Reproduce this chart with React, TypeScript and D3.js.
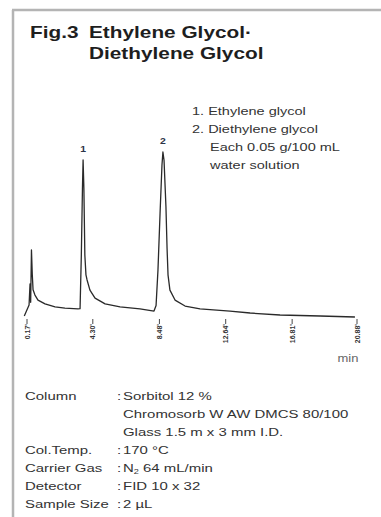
import React from "react";
import * as d3 from "d3";

// ---- data ----
const traceTime = [
  0.0, 0.3, 0.36, 0.4, 0.45, 0.5, 0.55, 0.67, 0.86, 1.3, 1.93, 2.55, 3.37,
  3.5, 3.58, 3.65, 3.69, 3.74, 3.8, 3.87, 3.94, 4.12, 4.44, 5.07, 6.01, 7.26, 8.14,
  8.27, 8.39, 8.52, 8.64, 8.7, 8.77, 8.89, 8.96, 9.02, 9.14, 9.46, 10.09, 11.03,
  12.91, 14.17, 16.05, 18.56, 20.75,
];
const traceSignal = [
  1.2, 7.8, 20.5, 9.5, 41, 26.5, 17, 13.8, 10.8, 8.5, 6.7, 6.0, 5.5,
  5.6, 38, 78, 95.2, 78, 38, 26, 22.9, 16.8, 12.0, 8.5, 6.7, 5.5, 4.2,
  7.5, 29, 63, 92, 100, 95, 67, 42, 26, 16.8, 10.8, 7.2, 5.5,
  4.2, 3.0, 1.8, 1.2, 0.6,
];
const tickTimes = [0.17, 4.3, 8.48, 12.64, 16.81, 20.88];
const tickLabels = ["0.17'", "4.30'", "8.48'", "12.64'", "16.81'", "20.88'"];
const peakNumbers = ["1", "2"];
const peakTimes = [3.69, 8.7];
const peakHeights = [95.2, 100];
const titleLines = ["Ethylene Glycol·", "Diethylene Glycol"];
const legendLines = [
  "1. Ethylene glycol",
  "2. Diethylene glycol",
  "Each 0.05 g/100 mL",
  "water solution",
];
const condLabels = ["Column", "", "", "Col.Temp.", "Carrier Gas", "Detector", "Sample Size"];
const condValues = [
  "Sorbitol 12 %",
  "Chromosorb W AW DMCS 80/100",
  "Glass 1.5 m x 3 mm I.D.",
  "170 °C",
  "N|2| 64 mL/min",
  "FID 10 x 32",
  "2 µL",
];

const W = 381;
const H = 517;
const FONT = "'Liberation Sans', Arial, Helvetica, sans-serif";

function SText({ x, y, sx = 1.3, size, weight = 400, fill = "#2b2b2b", anchor = "start", children }: any) {
  return (
    <g transform={`translate(${x},${y}) scale(${sx},1)`}>
      <text x={0} y={0} fontSize={size} fontWeight={weight} fill={fill} textAnchor={anchor} fontFamily={FONT}>
        {children}
      </text>
    </g>
  );
}

export default function App() {
  const x = d3.scaleLinear().domain([0.17, 20.88]).range([27, 357]);
  const y = d3.scaleLinear().domain([0, 100]).range([318, 152]);
  const pts: [number, number][] = traceTime.map((t, i) => [t, traceSignal[i]]);
  const line = d3
    .line<[number, number]>()
    .x((d) => x(d[0]))
    .y((d) => y(d[1]))
    .curve(d3.curveLinear);

  const condY0 = 400;
  const condStep = 18;

  return (
    <svg
      width={W}
      height={H}
      style={{ position: "absolute", left: 0, top: 0, background: "#fff" }}
    >
      <rect x={0} y={0} width={W} height={H} fill="#fff" />
      {/* frame */}
      <line x1={12} y1={10} x2={W} y2={10} stroke="#b4b4b4" strokeWidth={2.5} />
      <line x1={13} y1={10} x2={13} y2={H} stroke="#b4b4b4" strokeWidth={2.5} />

      {/* title */}
      <SText x={30} y={38} size={16} weight={700} sx={1.3} fill="#1e1e1e">Fig.3</SText>
      {titleLines.map((t, i) => (
        <SText key={t} x={89} y={38 + i * 21} size={16} weight={700} sx={1.3} fill="#1e1e1e">
          {t}
        </SText>
      ))}

      {/* legend */}
      {legendLines.map((t, i) => (
        <SText key={t} x={i < 2 ? 192 : 210} y={115 + i * 18} size={11} sx={1.32} fill="#333">
          {t}
        </SText>
      ))}

      {/* trace */}
      <path d={line(pts) || ""} fill="none" stroke="#2a2a2a" strokeWidth={1.3} strokeLinejoin="round" />

      {/* peak numbers */}
      {peakNumbers.map((p, i) => (
        <SText key={p} x={x(peakTimes[i])} y={y(peakHeights[i]) - 8} size={9.5} weight={700} sx={1.1} anchor="middle" fill="#2c3447">
          {p}
        </SText>
      ))}

      {/* ticks */}
      {tickTimes.map((t, i) => (
        <g key={t}>
          <line x1={x(t)} x2={x(t)} y1={319} y2={324} stroke="#333" strokeWidth={0.9} />
          <text
            transform={`translate(${x(t) + 2.5},${324}) rotate(-90)`}
            fontSize={7}
            fontWeight={700}
            fontFamily={FONT}
            fill="#333"
            textAnchor="end"
          >
            {tickLabels[i]}
          </text>
        </g>
      ))}
      <SText x={348} y={362} size={10} sx={1.3} anchor="middle" fill="#666">min</SText>

      {/* conditions */}
      {condLabels.map((lab, i) => {
        const yy = condY0 + i * condStep;
        const v = condValues[i];
        const parts = v.split("|");
        return (
          <g key={i}>
            {lab && <SText x={25} y={yy} size={11.5} sx={1.3} fill="#333">{lab}</SText>}
            {lab && <SText x={117} y={yy} size={11.5} sx={1.3} fill="#333">:</SText>}
            <g transform={`translate(${123},${yy}) scale(1.3,1)`}>
              <text x={0} y={0} fontSize={11.5} fontFamily={FONT} fill="#333">
                {parts.length === 3 ? (
                  <>
                    {parts[0]}
                    <tspan fontSize={7} dy={2}>{parts[1]}</tspan>
                    <tspan dy={-2}>{parts[2]}</tspan>
                  </>
                ) : (
                  v
                )}
              </text>
            </g>
          </g>
        );
      })}
    </svg>
  );
}
